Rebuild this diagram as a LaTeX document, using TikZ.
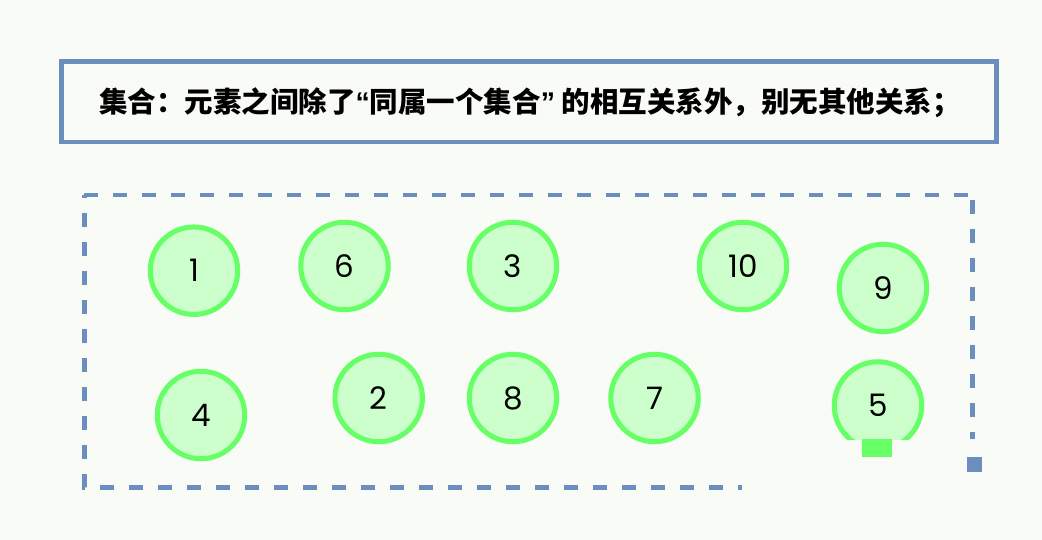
\documentclass[tikz,border=0pt]{standalone}
\usepackage{fontspec}
\setmainfont{Poppins}
\newfontfamily\cjk{Noto Sans CJK SC}
\newfontfamily\quotefont{Liberation Sans}
\definecolor{bg}{HTML}{F9FBF7}
\definecolor{blueedge}{HTML}{6C8EBF}
\definecolor{greenedge}{HTML}{66FF66}
\definecolor{greenfill}{HTML}{CCFFCC}
\begin{document}
\begin{tikzpicture}[x=1pt,y=-1pt,
  elem/.style={circle,draw=greenedge,fill=greenfill,line width=5pt,minimum size=87.5pt,inner sep=0pt,font=\fontsize{31}{31}\selectfont,text=black},
  titlebox/.style={draw=blueedge,line width=4.5pt,fill=bg,minimum width=935pt,minimum height=80.5pt,inner sep=0pt},
  setline/.style={draw=blueedge,line width=4.5pt,dash pattern=on 14pt off 15pt},
  marker/.style={fill=blueedge,inner sep=0pt,minimum size=15pt},
  greenmark/.style={fill=greenedge,inner sep=0pt,minimum width=30pt,minimum height=17.5pt}]
\fill[bg] (0,0) rectangle (1042,540);
\useasboundingbox (0,0) rectangle (1042,540);
% title
\node[titlebox] (title) at (529,101.7) {};
\node[font=\cjk\bfseries\fontsize{28.5}{28.5}\selectfont,inner sep=0pt,anchor=center] (titletext) at (530,102.5)
  {集合：元素之间除了{\quotefont\bfseries “}同属一个集合{\quotefont\bfseries ”} 的相互关系外，别无其他关系；};
% dashed set boundary
\coordinate (c1) at (742,487.3);
\coordinate (c2) at (84.3,487.3);
\coordinate (c3) at (84.3,195);
\coordinate (c4) at (972.7,195);
\coordinate (c4b) at (972.7,200);
\coordinate (c5) at (972.7,439.3);
\draw[setline] (c3) -- (c4);
\draw[setline] (c4b) -- (c5);
\draw[setline,dash phase=10pt] (c1) -- (c2) -- (c3);
\node[marker] (m) at (974.5,464.8) {};
% elements
\node[elem] (e1) at (194,270.7) {\raisebox{-2pt}{1}};
\node[elem] (e6) at (344.5,266) {\raisebox{-2pt}{6}};
\node[elem] (e3) at (513,266) {\raisebox{-2pt}{3}};
\node[elem] (e10) at (743,266) {\raisebox{-2pt}{10}};
\node[elem] (e9) at (883,288) {\raisebox{-2pt}{9}};
\node[elem] (e4) at (201,415) {\raisebox{-2pt}{4}};
\node[elem] (e2) at (378.7,398) {\raisebox{-2pt}{2}};
\node[elem] (e8) at (513,398) {\raisebox{-2pt}{8}};
\node[elem] (e7) at (654.5,398) {\raisebox{-2pt}{7}};
\begin{scope}
  \clip (0,0) rectangle (1042,439.5);
  \node[elem] (e5) at (878,405.5) {\raisebox{-2pt}{5}};
\end{scope}
\node[greenmark] (g5) at (877,448.2) {};
\end{tikzpicture}
\end{document}
